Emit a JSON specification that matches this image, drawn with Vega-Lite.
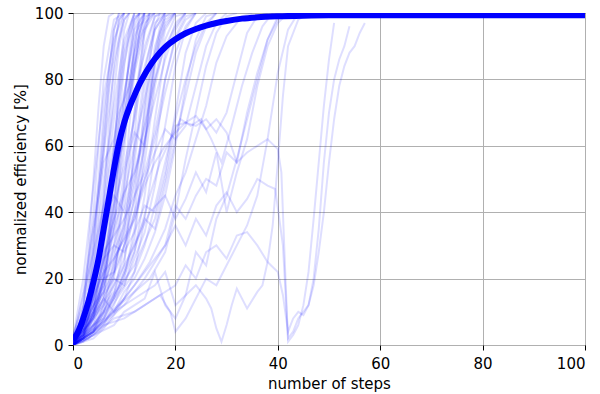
{
"$schema":"https://vega.github.io/schema/vega-lite/v6.json",
"width":512,"height":332,
"autosize":{"type":"none"},
"padding":{"left":73,"top":13,"right":15,"bottom":49},
"config":{"view":{"stroke":"black","strokeWidth":1},"font":"DejaVu Sans",
"axis":{"domain":false,"tickColor":"black","tickSize":5,"labelFontSize":15,"labelColor":"black","labelPadding":6,"gridColor":"#b0b0b0","gridWidth":1,"titleFontSize":15,"titleFontWeight":"normal","titleColor":"black"}},
"datasets":{
"runs":[
{"r":"a","x":0,"y":0},{"r":"a","x":2,"y":5},{"r":"a","x":4,"y":30},{"r":"a","x":6,"y":70},{"r":"a","x":8,"y":95},{"r":"a","x":9,"y":100},
{"r":"b","x":0,"y":2},{"r":"b","x":2,"y":10},{"r":"b","x":4,"y":40},{"r":"b","x":6,"y":80},{"r":"b","x":8,"y":98},{"r":"b","x":10,"y":100},
{"r":"c","x":0,"y":0},{"r":"c","x":2,"y":3},{"r":"c","x":4,"y":15},{"r":"c","x":6,"y":45},{"r":"c","x":8,"y":85},{"r":"c","x":10,"y":100},
{"r":"d","x":0,"y":1},{"r":"d","x":2,"y":8},{"r":"d","x":4,"y":22},{"r":"d","x":6,"y":50},{"r":"d","x":8,"y":72},{"r":"d","x":10,"y":92},{"r":"d","x":12,"y":100},
{"r":"e","x":0,"y":0},{"r":"e","x":2,"y":2},{"r":"e","x":4,"y":10},{"r":"e","x":6,"y":28},{"r":"e","x":8,"y":60},{"r":"e","x":10,"y":90},{"r":"e","x":12,"y":100},
{"r":"f","x":0,"y":3},{"r":"f","x":2,"y":12},{"r":"f","x":4,"y":35},{"r":"f","x":6,"y":55},{"r":"f","x":8,"y":62},{"r":"f","x":10,"y":85},{"r":"f","x":12,"y":99},{"r":"f","x":14,"y":100},
{"r":"g","x":0,"y":0},{"r":"g","x":2,"y":4},{"r":"g","x":4,"y":8},{"r":"g","x":6,"y":18},{"r":"g","x":8,"y":40},{"r":"g","x":10,"y":75},{"r":"g","x":12,"y":95},{"r":"g","x":14,"y":100},
{"r":"h","x":0,"y":1},{"r":"h","x":2,"y":6},{"r":"h","x":4,"y":14},{"r":"h","x":6,"y":25},{"r":"h","x":8,"y":38},{"r":"h","x":10,"y":62},{"r":"h","x":12,"y":88},{"r":"h","x":14,"y":99},{"r":"h","x":16,"y":100},
{"r":"i","x":0,"y":0},{"r":"i","x":3,"y":5},{"r":"i","x":5,"y":12},{"r":"i","x":7,"y":30},{"r":"i","x":9,"y":55},{"r":"i","x":11,"y":80},{"r":"i","x":13,"y":96},{"r":"i","x":15,"y":100},
{"r":"j","x":0,"y":2},{"r":"j","x":2,"y":15},{"r":"j","x":4,"y":28},{"r":"j","x":6,"y":42},{"r":"j","x":8,"y":50},{"r":"j","x":10,"y":66},{"r":"j","x":12,"y":82},{"r":"j","x":14,"y":95},{"r":"j","x":16,"y":100},
{"r":"k","x":0,"y":0},{"r":"k","x":2,"y":1},{"r":"k","x":4,"y":5},{"r":"k","x":6,"y":12},{"r":"k","x":8,"y":25},{"r":"k","x":10,"y":48},{"r":"k","x":12,"y":70},{"r":"k","x":14,"y":90},{"r":"k","x":16,"y":99},{"r":"k","x":18,"y":100},
{"r":"l","x":0,"y":0},{"r":"l","x":2,"y":3},{"r":"l","x":4,"y":9},{"r":"l","x":6,"y":20},{"r":"l","x":8,"y":22},{"r":"l","x":10,"y":35},{"r":"l","x":12,"y":58},{"r":"l","x":14,"y":82},{"r":"l","x":16,"y":97},{"r":"l","x":18,"y":100},
{"r":"m","x":0,"y":1},{"r":"m","x":2,"y":10},{"r":"m","x":4,"y":20},{"r":"m","x":6,"y":38},{"r":"m","x":8,"y":45},{"r":"m","x":10,"y":40},{"r":"m","x":12,"y":55},{"r":"m","x":14,"y":78},{"r":"m","x":16,"y":95},{"r":"m","x":18,"y":100},
{"r":"n","x":0,"y":0},{"r":"n","x":2,"y":2},{"r":"n","x":4,"y":6},{"r":"n","x":6,"y":8},{"r":"n","x":8,"y":15},{"r":"n","x":10,"y":30},{"r":"n","x":12,"y":44},{"r":"n","x":14,"y":70},{"r":"n","x":16,"y":90},{"r":"n","x":18,"y":99},{"r":"n","x":20,"y":100},
{"r":"o","x":0,"y":0},{"r":"o","x":3,"y":8},{"r":"o","x":5,"y":25},{"r":"o","x":7,"y":52},{"r":"o","x":9,"y":70},{"r":"o","x":11,"y":78},{"r":"o","x":13,"y":92},{"r":"o","x":15,"y":100},
{"r":"p","x":0,"y":2},{"r":"p","x":2,"y":20},{"r":"p","x":4,"y":48},{"r":"p","x":6,"y":75},{"r":"p","x":8,"y":92},{"r":"p","x":10,"y":100},
{"r":"q","x":0,"y":0},{"r":"q","x":2,"y":6},{"r":"q","x":4,"y":18},{"r":"q","x":6,"y":35},{"r":"q","x":8,"y":58},{"r":"q","x":10,"y":76},{"r":"q","x":12,"y":93},{"r":"q","x":14,"y":100},
{"r":"r","x":0,"y":0},{"r":"r","x":2,"y":2},{"r":"r","x":4,"y":4},{"r":"r","x":6,"y":10},{"r":"r","x":8,"y":18},{"r":"r","x":10,"y":26},{"r":"r","x":12,"y":40},{"r":"r","x":14,"y":62},{"r":"r","x":16,"y":85},{"r":"r","x":18,"y":96},{"r":"r","x":20,"y":100},
{"r":"s","x":0,"y":1},{"r":"s","x":2,"y":5},{"r":"s","x":4,"y":12},{"r":"s","x":6,"y":16},{"r":"s","x":8,"y":30},{"r":"s","x":10,"y":52},{"r":"s","x":12,"y":64},{"r":"s","x":14,"y":60},{"r":"s","x":16,"y":80},{"r":"s","x":18,"y":95},{"r":"s","x":20,"y":100},
{"r":"t","x":0,"y":0},{"r":"t","x":2,"y":4},{"r":"t","x":4,"y":12},{"r":"t","x":6,"y":30},{"r":"t","x":8,"y":48},{"r":"t","x":10,"y":65},{"r":"t","x":12,"y":84},{"r":"t","x":14,"y":97},{"r":"t","x":16,"y":100},
{"r":"u","x":0,"y":0},{"r":"u","x":1,"y":3},{"r":"u","x":3,"y":20},{"r":"u","x":5,"y":45},{"r":"u","x":7,"y":78},{"r":"u","x":9,"y":98},{"r":"u","x":10,"y":100},
{"r":"v","x":0,"y":0},{"r":"v","x":2,"y":1},{"r":"v","x":4,"y":3},{"r":"v","x":6,"y":6},{"r":"v","x":8,"y":12},{"r":"v","x":10,"y":20},{"r":"v","x":12,"y":35},{"r":"v","x":14,"y":55},{"r":"v","x":16,"y":78},{"r":"v","x":18,"y":92},{"r":"v","x":20,"y":99},{"r":"v","x":22,"y":100},
{"r":"w","x":0,"y":1},{"r":"w","x":2,"y":3},{"r":"w","x":4,"y":7},{"r":"w","x":6,"y":15},{"r":"w","x":8,"y":20},{"r":"w","x":10,"y":18},{"r":"w","x":12,"y":28},{"r":"w","x":14,"y":45},{"r":"w","x":16,"y":68},{"r":"w","x":18,"y":88},{"r":"w","x":20,"y":97},{"r":"w","x":22,"y":100},
{"r":"x","x":0,"y":0},{"r":"x","x":2,"y":7},{"r":"x","x":4,"y":24},{"r":"x","x":6,"y":42},{"r":"x","x":8,"y":68},{"r":"x","x":10,"y":88},{"r":"x","x":12,"y":98},{"r":"x","x":13,"y":100},
{"r":"y","x":0,"y":0},{"r":"y","x":2,"y":2},{"r":"y","x":4,"y":15},{"r":"y","x":6,"y":22},{"r":"y","x":8,"y":35},{"r":"y","x":10,"y":45},{"r":"y","x":12,"y":60},{"r":"y","x":14,"y":74},{"r":"y","x":16,"y":88},{"r":"y","x":18,"y":98},{"r":"y","x":20,"y":100},
{"r":"z","x":0,"y":0},{"r":"z","x":2,"y":1},{"r":"z","x":4,"y":2},{"r":"z","x":6,"y":5},{"r":"z","x":8,"y":9},{"r":"z","x":10,"y":14},{"r":"z","x":12,"y":22},{"r":"z","x":14,"y":38},{"r":"z","x":16,"y":58},{"r":"z","x":18,"y":80},{"r":"z","x":20,"y":93},{"r":"z","x":22,"y":99},{"r":"z","x":24,"y":100},
{"r":"aa","x":0,"y":2},{"r":"aa","x":2,"y":9},{"r":"aa","x":4,"y":20},{"r":"aa","x":6,"y":32},{"r":"aa","x":8,"y":52},{"r":"aa","x":10,"y":70},{"r":"aa","x":12,"y":76},{"r":"aa","x":14,"y":88},{"r":"aa","x":16,"y":99},{"r":"aa","x":17,"y":100},
{"r":"ab","x":0,"y":0},{"r":"ab","x":2,"y":3},{"r":"ab","x":4,"y":10},{"r":"ab","x":6,"y":24},{"r":"ab","x":8,"y":44},{"r":"ab","x":10,"y":68},{"r":"ab","x":12,"y":90},{"r":"ab","x":13,"y":100},
{"r":"ac","x":0,"y":0},{"r":"ac","x":2,"y":2},{"r":"ac","x":4,"y":6},{"r":"ac","x":6,"y":14},{"r":"ac","x":7,"y":30},{"r":"ac","x":8,"y":55},{"r":"ac","x":9,"y":80},{"r":"ac","x":10,"y":95},{"r":"ac","x":11,"y":100},
{"r":"ad","x":0,"y":1},{"r":"ad","x":2,"y":4},{"r":"ad","x":4,"y":10},{"r":"ad","x":6,"y":20},{"r":"ad","x":8,"y":34},{"r":"ad","x":9,"y":50},{"r":"ad","x":10,"y":70},{"r":"ad","x":11,"y":88},{"r":"ad","x":12,"y":98},{"r":"ad","x":13,"y":100},
{"r":"ae","x":0,"y":0},{"r":"ae","x":2,"y":3},{"r":"ae","x":4,"y":8},{"r":"ae","x":6,"y":12},{"r":"ae","x":8,"y":16},{"r":"ae","x":10,"y":24},{"r":"ae","x":11,"y":40},{"r":"ae","x":12,"y":62},{"r":"ae","x":13,"y":82},{"r":"ae","x":14,"y":95},{"r":"ae","x":15,"y":100},
{"r":"af","x":0,"y":0},{"r":"af","x":2,"y":8},{"r":"af","x":4,"y":18},{"r":"af","x":6,"y":28},{"r":"af","x":8,"y":33},{"r":"af","x":10,"y":38},{"r":"af","x":12,"y":45},{"r":"af","x":14,"y":52},{"r":"af","x":16,"y":64},{"r":"af","x":18,"y":80},{"r":"af","x":20,"y":92},{"r":"af","x":22,"y":98},{"r":"af","x":24,"y":100},
{"r":"ag","x":0,"y":1},{"r":"ag","x":2,"y":6},{"r":"ag","x":4,"y":16},{"r":"ag","x":6,"y":26},{"r":"ag","x":8,"y":30},{"r":"ag","x":10,"y":28},{"r":"ag","x":12,"y":34},{"r":"ag","x":14,"y":42},{"r":"ag","x":16,"y":40},{"r":"ag","x":18,"y":52},{"r":"ag","x":20,"y":70},{"r":"ag","x":22,"y":88},{"r":"ag","x":24,"y":97},{"r":"ag","x":26,"y":100},
{"r":"ah","x":0,"y":0},{"r":"ah","x":2,"y":4},{"r":"ah","x":4,"y":9},{"r":"ah","x":6,"y":14},{"r":"ah","x":8,"y":10},{"r":"ah","x":10,"y":16},{"r":"ah","x":12,"y":20},{"r":"ah","x":14,"y":26},{"r":"ah","x":16,"y":34},{"r":"ah","x":18,"y":45},{"r":"ah","x":20,"y":60},{"r":"ah","x":22,"y":78},{"r":"ah","x":24,"y":92},{"r":"ah","x":26,"y":99},{"r":"ah","x":28,"y":100},
{"r":"ai","x":0,"y":0},{"r":"ai","x":3,"y":2},{"r":"ai","x":6,"y":8},{"r":"ai","x":9,"y":15},{"r":"ai","x":12,"y":22},{"r":"ai","x":14,"y":30},{"r":"ai","x":16,"y":42},{"r":"ai","x":18,"y":55},{"r":"ai","x":20,"y":68},{"r":"ai","x":22,"y":80},{"r":"ai","x":24,"y":90},{"r":"ai","x":26,"y":97},{"r":"ai","x":28,"y":100},
{"r":"aj","x":0,"y":0},{"r":"aj","x":3,"y":4},{"r":"aj","x":6,"y":10},{"r":"aj","x":9,"y":18},{"r":"aj","x":12,"y":30},{"r":"aj","x":14,"y":38},{"r":"aj","x":16,"y":35},{"r":"aj","x":18,"y":48},{"r":"aj","x":20,"y":62},{"r":"aj","x":22,"y":66},{"r":"aj","x":24,"y":78},{"r":"aj","x":26,"y":90},{"r":"aj","x":28,"y":97},{"r":"aj","x":30,"y":100},
{"r":"ak","x":0,"y":1},{"r":"ak","x":3,"y":6},{"r":"ak","x":6,"y":14},{"r":"ak","x":9,"y":25},{"r":"ak","x":12,"y":40},{"r":"ak","x":14,"y":50},{"r":"ak","x":16,"y":58},{"r":"ak","x":18,"y":65},{"r":"ak","x":20,"y":62},{"r":"ak","x":22,"y":75},{"r":"ak","x":24,"y":88},{"r":"ak","x":26,"y":96},{"r":"ak","x":28,"y":100},
{"r":"al","x":0,"y":0},{"r":"al","x":3,"y":3},{"r":"al","x":6,"y":7},{"r":"al","x":9,"y":12},{"r":"al","x":12,"y":16},{"r":"al","x":15,"y":20},{"r":"al","x":18,"y":28},{"r":"al","x":20,"y":40},{"r":"al","x":22,"y":56},{"r":"al","x":24,"y":70},{"r":"al","x":26,"y":84},{"r":"al","x":28,"y":94},{"r":"al","x":30,"y":99},{"r":"al","x":32,"y":100},
{"r":"am","x":0,"y":0},{"r":"am","x":4,"y":4},{"r":"am","x":8,"y":10},{"r":"am","x":12,"y":18},{"r":"am","x":15,"y":25},{"r":"am","x":18,"y":35},{"r":"am","x":20,"y":45},{"r":"am","x":22,"y":52},{"r":"am","x":24,"y":62},{"r":"am","x":26,"y":72},{"r":"am","x":28,"y":85},{"r":"am","x":30,"y":93},{"r":"am","x":33,"y":99},{"r":"am","x":35,"y":100},
{"r":"an","x":0,"y":2},{"r":"an","x":4,"y":10},{"r":"an","x":8,"y":22},{"r":"an","x":12,"y":38},{"r":"an","x":14,"y":48},{"r":"an","x":16,"y":55},{"r":"an","x":18,"y":60},{"r":"an","x":20,"y":64},{"r":"an","x":22,"y":67},{"r":"an","x":24,"y":66},{"r":"an","x":26,"y":68},{"r":"an","x":28,"y":64},{"r":"an","x":30,"y":70},{"r":"an","x":32,"y":82},{"r":"an","x":34,"y":94},{"r":"an","x":36,"y":99},{"r":"an","x":38,"y":100},
{"r":"ao","x":0,"y":0},{"r":"ao","x":4,"y":5},{"r":"ao","x":8,"y":14},{"r":"ao","x":12,"y":28},{"r":"ao","x":15,"y":45},{"r":"ao","x":17,"y":55},{"r":"ao","x":19,"y":62},{"r":"ao","x":21,"y":68},{"r":"ao","x":23,"y":66},{"r":"ao","x":25,"y":68},{"r":"ao","x":27,"y":62},{"r":"ao","x":29,"y":55},{"r":"ao","x":31,"y":66},{"r":"ao","x":33,"y":78},{"r":"ao","x":35,"y":88},{"r":"ao","x":37,"y":96},{"r":"ao","x":39,"y":100},
{"r":"ap","x":0,"y":0},{"r":"ap","x":4,"y":6},{"r":"ap","x":8,"y":15},{"r":"ap","x":12,"y":24},{"r":"ap","x":16,"y":38},{"r":"ap","x":18,"y":50},{"r":"ap","x":20,"y":66},{"r":"ap","x":22,"y":67},{"r":"ap","x":24,"y":69},{"r":"ap","x":26,"y":65},{"r":"ap","x":28,"y":68},{"r":"ap","x":30,"y":64},{"r":"ap","x":32,"y":55},{"r":"ap","x":34,"y":58},{"r":"ap","x":36,"y":60},{"r":"ap","x":38,"y":62},{"r":"ap","x":40,"y":59},{"r":"ap","x":40.7,"y":52},{"r":"ap","x":41.5,"y":20},{"r":"ap","x":42,"y":1},{"r":"ap","x":43,"y":3},{"r":"ap","x":44,"y":6},{"r":"ap","x":45,"y":12},{"r":"ap","x":46,"y":22},{"r":"ap","x":47,"y":38},{"r":"ap","x":48,"y":55},{"r":"ap","x":49,"y":72},{"r":"ap","x":50,"y":86},{"r":"ap","x":51,"y":97},
{"r":"aq","x":0,"y":0},{"r":"aq","x":5,"y":5},{"r":"aq","x":10,"y":12},{"r":"aq","x":14,"y":20},{"r":"aq","x":18,"y":30},{"r":"aq","x":20,"y":36},{"r":"aq","x":22,"y":30},{"r":"aq","x":24,"y":38},{"r":"aq","x":26,"y":33},{"r":"aq","x":28,"y":42},{"r":"aq","x":30,"y":46},{"r":"aq","x":32,"y":40},{"r":"aq","x":34,"y":44},{"r":"aq","x":36,"y":50},{"r":"aq","x":38,"y":48},{"r":"aq","x":39.5,"y":47},{"r":"aq","x":41,"y":30},{"r":"aq","x":42,"y":2},{"r":"aq","x":43,"y":4},{"r":"aq","x":44,"y":8},{"r":"aq","x":45,"y":10},{"r":"aq","x":46,"y":12},{"r":"aq","x":47,"y":20},{"r":"aq","x":48,"y":35},{"r":"aq","x":49,"y":55},{"r":"aq","x":50,"y":70},{"r":"aq","x":51,"y":80},{"r":"aq","x":52,"y":86},{"r":"aq","x":53,"y":90},{"r":"aq","x":54,"y":96},
{"r":"ar","x":0,"y":0},{"r":"ar","x":4,"y":3},{"r":"ar","x":8,"y":8},{"r":"ar","x":12,"y":10},{"r":"ar","x":16,"y":14},{"r":"ar","x":20,"y":18},{"r":"ar","x":22,"y":24},{"r":"ar","x":24,"y":20},{"r":"ar","x":26,"y":28},{"r":"ar","x":28,"y":30},{"r":"ar","x":30,"y":26},{"r":"ar","x":32,"y":33},{"r":"ar","x":34,"y":34},{"r":"ar","x":36,"y":30},{"r":"ar","x":38,"y":25},{"r":"ar","x":40,"y":22},{"r":"ar","x":41,"y":15},{"r":"ar","x":42,"y":4},{"r":"ar","x":43,"y":8},{"r":"ar","x":44,"y":10},{"r":"ar","x":45,"y":9},{"r":"ar","x":46,"y":12},{"r":"ar","x":47,"y":18},{"r":"ar","x":48,"y":28},{"r":"ar","x":49,"y":40},{"r":"ar","x":50,"y":55},{"r":"ar","x":51,"y":68},{"r":"ar","x":52,"y":78},{"r":"ar","x":53,"y":84},{"r":"ar","x":54,"y":88},{"r":"ar","x":55,"y":90},{"r":"ar","x":56,"y":94},{"r":"ar","x":57,"y":97},
{"r":"as","x":0,"y":0},{"r":"as","x":4,"y":4},{"r":"as","x":8,"y":10},{"r":"as","x":12,"y":14},{"r":"as","x":16,"y":18},{"r":"as","x":18,"y":22},{"r":"as","x":20,"y":12},{"r":"as","x":22,"y":15},{"r":"as","x":24,"y":18},{"r":"as","x":26,"y":14},{"r":"as","x":27,"y":11},{"r":"as","x":28,"y":5},{"r":"as","x":29,"y":1},{"r":"as","x":30,"y":6},{"r":"as","x":31,"y":12},{"r":"as","x":32,"y":17},{"r":"as","x":34,"y":11},{"r":"as","x":36,"y":16},{"r":"as","x":37,"y":18},{"r":"as","x":38,"y":25},{"r":"as","x":39,"y":36},{"r":"as","x":40,"y":55},{"r":"as","x":41,"y":75},{"r":"as","x":42,"y":90},{"r":"as","x":44,"y":98},{"r":"as","x":46,"y":100},
{"r":"at","x":0,"y":0},{"r":"at","x":3,"y":2},{"r":"at","x":6,"y":6},{"r":"at","x":10,"y":8},{"r":"at","x":14,"y":12},{"r":"at","x":17,"y":15},{"r":"at","x":19,"y":10},{"r":"at","x":20,"y":4},{"r":"at","x":22,"y":8},{"r":"at","x":24,"y":14},{"r":"at","x":26,"y":20},{"r":"at","x":28,"y":18},{"r":"at","x":30,"y":24},{"r":"at","x":32,"y":30},{"r":"at","x":34,"y":36},{"r":"at","x":36,"y":45},{"r":"at","x":38,"y":62},{"r":"at","x":40,"y":82},{"r":"at","x":42,"y":95},{"r":"at","x":44,"y":100},
{"r":"au","x":0,"y":0},{"r":"au","x":5,"y":6},{"r":"au","x":10,"y":14},{"r":"au","x":15,"y":24},{"r":"au","x":18,"y":30},{"r":"au","x":20,"y":42},{"r":"au","x":22,"y":38},{"r":"au","x":24,"y":45},{"r":"au","x":26,"y":50},{"r":"au","x":28,"y":48},{"r":"au","x":30,"y":58},{"r":"au","x":32,"y":55},{"r":"au","x":34,"y":70},{"r":"au","x":36,"y":82},{"r":"au","x":38,"y":92},{"r":"au","x":40,"y":98},{"r":"au","x":42,"y":100},
{"r":"av","x":0,"y":1},{"r":"av","x":4,"y":8},{"r":"av","x":8,"y":18},{"r":"av","x":12,"y":30},{"r":"av","x":15,"y":40},{"r":"av","x":18,"y":45},{"r":"av","x":20,"y":38},{"r":"av","x":22,"y":44},{"r":"av","x":24,"y":52},{"r":"av","x":26,"y":46},{"r":"av","x":28,"y":58},{"r":"av","x":30,"y":40},{"r":"av","x":32,"y":52},{"r":"av","x":34,"y":62},{"r":"av","x":36,"y":78},{"r":"av","x":38,"y":90},{"r":"av","x":40,"y":97},{"r":"av","x":42,"y":100},
{"r":"aw","x":0,"y":0},{"r":"aw","x":4,"y":3},{"r":"aw","x":8,"y":6},{"r":"aw","x":10,"y":10},{"r":"aw","x":14,"y":14},{"r":"aw","x":16,"y":22},{"r":"aw","x":18,"y":12},{"r":"aw","x":20,"y":8},{"r":"aw","x":22,"y":15},{"r":"aw","x":24,"y":28},{"r":"aw","x":26,"y":24},{"r":"aw","x":28,"y":38},{"r":"aw","x":30,"y":45},{"r":"aw","x":32,"y":56},{"r":"aw","x":34,"y":68},{"r":"aw","x":36,"y":80},{"r":"aw","x":38,"y":92},{"r":"aw","x":40,"y":99},
{"r":"ax","x":0,"y":0},{"r":"ax","x":1,"y":4},{"r":"ax","x":2,"y":12},{"r":"ax","x":3,"y":28},{"r":"ax","x":4,"y":50},{"r":"ax","x":5,"y":72},{"r":"ax","x":6,"y":90},{"r":"ax","x":7,"y":99},{"r":"ax","x":8,"y":100},
{"r":"ay","x":0,"y":1},{"r":"ay","x":2,"y":6},{"r":"ay","x":3,"y":14},{"r":"ay","x":4,"y":28},{"r":"ay","x":5,"y":46},{"r":"ay","x":6,"y":65},{"r":"ay","x":7,"y":82},{"r":"ay","x":8,"y":95},{"r":"ay","x":9,"y":100},
{"r":"az","x":0,"y":0},{"r":"az","x":2,"y":5},{"r":"az","x":4,"y":16},{"r":"az","x":5,"y":28},{"r":"az","x":6,"y":44},{"r":"az","x":7,"y":60},{"r":"az","x":8,"y":76},{"r":"az","x":9,"y":90},{"r":"az","x":10,"y":98},{"r":"az","x":11,"y":100},
{"r":"ba","x":0,"y":0},{"r":"ba","x":2,"y":2},{"r":"ba","x":4,"y":8},{"r":"ba","x":6,"y":22},{"r":"ba","x":7,"y":36},{"r":"ba","x":8,"y":52},{"r":"ba","x":9,"y":68},{"r":"ba","x":10,"y":84},{"r":"ba","x":11,"y":95},{"r":"ba","x":12,"y":100},
{"r":"bb","x":0,"y":2},{"r":"bb","x":1,"y":8},{"r":"bb","x":2,"y":16},{"r":"bb","x":3,"y":26},{"r":"bb","x":4,"y":36},{"r":"bb","x":5,"y":48},{"r":"bb","x":6,"y":58},{"r":"bb","x":7,"y":70},{"r":"bb","x":8,"y":82},{"r":"bb","x":9,"y":92},{"r":"bb","x":10,"y":98},{"r":"bb","x":11,"y":100},
{"r":"bc","x":0,"y":0},{"r":"bc","x":2,"y":3},{"r":"bc","x":4,"y":6},{"r":"bc","x":6,"y":10},{"r":"bc","x":8,"y":20},{"r":"bc","x":9,"y":32},{"r":"bc","x":10,"y":48},{"r":"bc","x":11,"y":66},{"r":"bc","x":12,"y":82},{"r":"bc","x":13,"y":94},{"r":"bc","x":14,"y":100},
{"r":"bd","x":0,"y":0},{"r":"bd","x":2,"y":5},{"r":"bd","x":4,"y":12},{"r":"bd","x":6,"y":20},{"r":"bd","x":8,"y":30},{"r":"bd","x":10,"y":42},{"r":"bd","x":11,"y":55},{"r":"bd","x":12,"y":70},{"r":"bd","x":13,"y":84},{"r":"bd","x":14,"y":94},{"r":"bd","x":15,"y":99},{"r":"bd","x":16,"y":100},
{"r":"be","x":0,"y":1},{"r":"be","x":2,"y":4},{"r":"be","x":4,"y":14},{"r":"be","x":6,"y":34},{"r":"be","x":7,"y":48},{"r":"be","x":8,"y":58},{"r":"be","x":9,"y":64},{"r":"be","x":10,"y":74},{"r":"be","x":11,"y":86},{"r":"be","x":12,"y":96},{"r":"be","x":13,"y":100},
{"r":"bf","x":0,"y":0},{"r":"bf","x":2,"y":2},{"r":"bf","x":4,"y":5},{"r":"bf","x":6,"y":9},{"r":"bf","x":8,"y":14},{"r":"bf","x":10,"y":22},{"r":"bf","x":12,"y":32},{"r":"bf","x":13,"y":45},{"r":"bf","x":14,"y":60},{"r":"bf","x":15,"y":75},{"r":"bf","x":16,"y":88},{"r":"bf","x":17,"y":96},{"r":"bf","x":18,"y":100},
{"r":"bg","x":0,"y":0},{"r":"bg","x":2,"y":6},{"r":"bg","x":4,"y":14},{"r":"bg","x":6,"y":22},{"r":"bg","x":8,"y":26},{"r":"bg","x":10,"y":32},{"r":"bg","x":12,"y":44},{"r":"bg","x":14,"y":60},{"r":"bg","x":15,"y":72},{"r":"bg","x":16,"y":84},{"r":"bg","x":17,"y":94},{"r":"bg","x":18,"y":99},{"r":"bg","x":19,"y":100},
{"r":"bh","x":0,"y":0},{"r":"bh","x":1,"y":2},{"r":"bh","x":2,"y":6},{"r":"bh","x":3,"y":14},{"r":"bh","x":4,"y":26},{"r":"bh","x":5,"y":40},{"r":"bh","x":6,"y":58},{"r":"bh","x":7,"y":76},{"r":"bh","x":8,"y":90},{"r":"bh","x":9,"y":98},{"r":"bh","x":10,"y":100},
{"r":"bi","x":0,"y":1},{"r":"bi","x":2,"y":3},{"r":"bi","x":4,"y":10},{"r":"bi","x":6,"y":18},{"r":"bi","x":8,"y":28},{"r":"bi","x":10,"y":36},{"r":"bi","x":12,"y":50},{"r":"bi","x":14,"y":66},{"r":"bi","x":16,"y":80},{"r":"bi","x":18,"y":90},{"r":"bi","x":20,"y":96},{"r":"bi","x":22,"y":100},
{"r":"bj","x":0,"y":0},{"r":"bj","x":2,"y":4},{"r":"bj","x":4,"y":10},{"r":"bj","x":6,"y":16},{"r":"bj","x":8,"y":24},{"r":"bj","x":10,"y":34},{"r":"bj","x":12,"y":48},{"r":"bj","x":13,"y":58},{"r":"bj","x":14,"y":72},{"r":"bj","x":15,"y":86},{"r":"bj","x":16,"y":96},{"r":"bj","x":17,"y":100},
{"r":"bk","x":0,"y":0},{"r":"bk","x":2,"y":8},{"r":"bk","x":4,"y":20},{"r":"bk","x":6,"y":36},{"r":"bk","x":8,"y":48},{"r":"bk","x":9,"y":56},{"r":"bk","x":10,"y":62},{"r":"bk","x":11,"y":72},{"r":"bk","x":12,"y":84},{"r":"bk","x":13,"y":94},{"r":"bk","x":14,"y":100},
{"r":"bl","x":0,"y":0},{"r":"bl","x":2,"y":2},{"r":"bl","x":4,"y":4},{"r":"bl","x":6,"y":8},{"r":"bl","x":8,"y":14},{"r":"bl","x":10,"y":18},{"r":"bl","x":12,"y":26},{"r":"bl","x":14,"y":34},{"r":"bl","x":16,"y":48},{"r":"bl","x":18,"y":66},{"r":"bl","x":20,"y":84},{"r":"bl","x":22,"y":95},{"r":"bl","x":24,"y":100},
{"r":"bm","x":0,"y":1},{"r":"bm","x":2,"y":5},{"r":"bm","x":4,"y":11},{"r":"bm","x":6,"y":26},{"r":"bm","x":8,"y":42},{"r":"bm","x":10,"y":54},{"r":"bm","x":12,"y":68},{"r":"bm","x":14,"y":84},{"r":"bm","x":16,"y":95},{"r":"bm","x":18,"y":100},
{"r":"bn","x":0,"y":0},{"r":"bn","x":2,"y":3},{"r":"bn","x":4,"y":12},{"r":"bn","x":6,"y":26},{"r":"bn","x":8,"y":38},{"r":"bn","x":10,"y":46},{"r":"bn","x":12,"y":52},{"r":"bn","x":14,"y":66},{"r":"bn","x":16,"y":86},{"r":"bn","x":18,"y":97},{"r":"bn","x":20,"y":100},
{"r":"bo","x":0,"y":0},{"r":"bo","x":2,"y":2},{"r":"bo","x":4,"y":4},{"r":"bo","x":6,"y":12},{"r":"bo","x":8,"y":22},{"r":"bo","x":10,"y":38},{"r":"bo","x":12,"y":52},{"r":"bo","x":14,"y":62},{"r":"bo","x":16,"y":74},{"r":"bo","x":18,"y":86},{"r":"bo","x":20,"y":95},{"r":"bo","x":22,"y":100},
{"r":"bp","x":0,"y":2},{"r":"bp","x":2,"y":6},{"r":"bp","x":4,"y":12},{"r":"bp","x":6,"y":18},{"r":"bp","x":8,"y":26},{"r":"bp","x":10,"y":32},{"r":"bp","x":12,"y":38},{"r":"bp","x":14,"y":50},{"r":"bp","x":16,"y":62},{"r":"bp","x":18,"y":76},{"r":"bp","x":20,"y":88},{"r":"bp","x":22,"y":96},{"r":"bp","x":24,"y":100},
{"r":"bq","x":0,"y":0},{"r":"bq","x":2,"y":4},{"r":"bq","x":4,"y":9},{"r":"bq","x":6,"y":20},{"r":"bq","x":8,"y":36},{"r":"bq","x":10,"y":58},{"r":"bq","x":11,"y":76},{"r":"bq","x":12,"y":90},{"r":"bq","x":13,"y":98},{"r":"bq","x":14,"y":100}
],
"mean":[
{"x":0,"y":1.5},{"x":1,"y":4},{"x":2,"y":8},{"x":3,"y":13},{"x":4,"y":19},{"x":5,"y":26},{"x":6,"y":35},{"x":7,"y":44},{"x":8,"y":53},{"x":9,"y":61},{"x":10,"y":67},{"x":11,"y":71.5},{"x":12,"y":75.2},{"x":13,"y":78.6},{"x":14,"y":81.5},{"x":15,"y":84},{"x":16,"y":86.2},{"x":17,"y":88.1},{"x":18,"y":89.7},{"x":19,"y":91},{"x":20,"y":92.1},{"x":22,"y":93.9},{"x":24,"y":95.2},{"x":26,"y":96.2},{"x":28,"y":97},{"x":30,"y":97.6},{"x":33,"y":98.3},{"x":36,"y":98.7},{"x":40,"y":99},{"x":45,"y":99.2},{"x":50,"y":99.3},{"x":100,"y":99.3}
]},
"layer":[
{"data":{"name":"runs"},"mark":{"type":"line","color":"blue","opacity":0.13,"strokeWidth":2,"clip":true},
"encoding":{
"x":{"field":"x","type":"quantitative","scale":{"domain":[0,100],"nice":false},"axis":{"title":"number of steps","values":[0,20,40,60,80,100],"titlePadding":5}},
"y":{"field":"y","type":"quantitative","scale":{"domain":[0,100],"nice":false},"axis":{"title":"normalized efficiency [%]","values":[0,20,40,60,80,100],"labelPadding":5,"titlePadding":6}},
"detail":{"field":"r","type":"nominal"}}},
{"data":{"name":"mean"},"mark":{"type":"line","color":"blue","strokeWidth":6,"clip":true,"interpolate":"monotone"},
"encoding":{
"x":{"field":"x","type":"quantitative"},
"y":{"field":"y","type":"quantitative"}}}
]
}
